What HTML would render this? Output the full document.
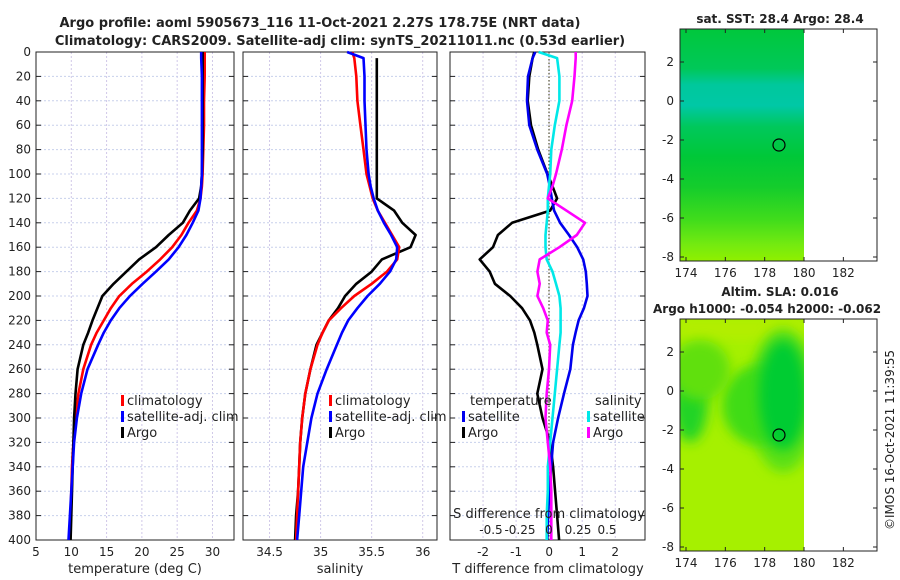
<!DOCTYPE html>
<html><head><meta charset="utf-8"><style>
html,body{margin:0;padding:0;background:#fff}
svg{display:block;font-family:"DejaVu Sans","Liberation Sans",sans-serif}
text{fill:#222}
</style></head><body>
<svg id="c" width="900" height="580" viewBox="0 0 900 580" xmlns="http://www.w3.org/2000/svg">
<defs>
<linearGradient id="sst" x1="0" y1="0" x2="0" y2="1">
<stop offset="0" stop-color="#00c83c"/><stop offset="0.17" stop-color="#00c858"/>
<stop offset="0.24" stop-color="#00c89c"/><stop offset="0.33" stop-color="#00c8a6"/>
<stop offset="0.42" stop-color="#00c85c"/><stop offset="0.55" stop-color="#00c838"/>
<stop offset="0.68" stop-color="#14cc2c"/><stop offset="0.82" stop-color="#40dc1c"/>
<stop offset="0.93" stop-color="#74ea10"/><stop offset="1" stop-color="#90f000"/>
</linearGradient>
<filter id="bl" x="-30%" y="-30%" width="160%" height="160%"><feGaussianBlur stdDeviation="6"/></filter>
<clipPath id="cm2"><rect x="680" y="319" width="124" height="232"/></clipPath>
</defs>
<text x="320" y="27" text-anchor="middle" font-size="13" font-weight="bold">Argo profile: aoml 5905673_116 11-Oct-2021 2.27S 178.75E (NRT data)</text>
<text x="340" y="45" text-anchor="middle" font-size="13" font-weight="bold">Climatology: CARS2009. Satellite-adj clim: synTS_20211011.nc (0.53d earlier)</text>
<g id="plots"></g>
<g>
<text x="780" y="23" text-anchor="middle" font-size="12" font-weight="bold">sat. SST: 28.4 Argo: 28.4</text>
<rect x="680" y="29" width="124" height="232" fill="url(#sst)"/>
<rect x="680" y="29" width="197" height="232" fill="none" stroke="#222" stroke-width="1"/>
<circle cx="779" cy="145" r="6" fill="none" stroke="#000" stroke-width="1.2"/>
<g id="map1ticks"></g>
</g>
<g>
<text x="780" y="296" text-anchor="middle" font-size="12" font-weight="bold">Altim. SLA: 0.016</text>
<text x="653" y="313" font-size="12" font-weight="bold">Argo h1000: -0.054 h2000: -0.062</text>
<g clip-path="url(#cm2)">
<rect x="680" y="319" width="124" height="232" fill="#a6f000"/>
<rect x="680" y="319" width="124" height="20" fill="#b4ee00" filter="url(#bl)"/>
<ellipse cx="783" cy="400" rx="34" ry="72" fill="#5ae014" filter="url(#bl)"/>
<ellipse cx="760" cy="405" rx="38" ry="40" fill="#40dc18" filter="url(#bl)"/>
<ellipse cx="783" cy="395" rx="24" ry="55" fill="#00cc30" filter="url(#bl)"/>
<ellipse cx="690" cy="400" rx="18" ry="42" fill="#20d428" filter="url(#bl)"/>
<ellipse cx="700" cy="370" rx="30" ry="30" fill="#60e010" filter="url(#bl)"/>
</g>
<rect x="680" y="319" width="197" height="232" fill="none" stroke="#222" stroke-width="1"/>
<circle cx="779" cy="435" r="6" fill="none" stroke="#000" stroke-width="1.2"/>
<g id="map2ticks"></g>
</g>
<text transform="translate(894,440) rotate(-90)" text-anchor="middle" font-size="12">©IMOS 16-Oct-2021 11:39:55</text>
</svg>
<script>
const depths = [0,5,20,40,60,80,100,110,120,130,140,150,160,170,180,190,200,210,220,230,240,260,280,300,320,340,360,380,400];
const tempClim = [28.9,28.9,28.9,28.8,28.8,28.7,28.6,28.5,28.3,27.8,26.6,25.6,24.3,22.6,20.7,18.6,16.8,15.6,14.6,13.6,12.8,11.7,11.0,10.6,10.3,10.1,10.0,9.9,9.8];
const tempSat = [28.4,28.4,28.5,28.5,28.5,28.5,28.5,28.4,28.3,28.0,27.2,26.3,25.2,23.8,22.0,20.1,18.3,16.8,15.6,14.6,13.8,12.3,11.4,10.8,10.4,10.2,10.0,9.8,9.6];
const tempArgo = [28.6,28.6,28.6,28.6,28.6,28.6,28.5,28.4,28.1,26.8,25.8,23.8,22.0,19.6,17.8,16.0,14.4,13.7,13.0,12.4,11.7,10.9,10.6,10.4,10.3,10.2,10.1,10.0,9.9];
const salClim = [35.31,35.33,35.35,35.36,35.39,35.42,35.45,35.48,35.51,35.56,35.63,35.70,35.77,35.75,35.65,35.50,35.33,35.20,35.08,35.02,34.97,34.90,34.85,34.82,34.80,34.79,34.78,34.77,34.76];
const salSat = [35.26,35.42,35.43,35.43,35.44,35.45,35.47,35.49,35.52,35.56,35.62,35.69,35.75,35.74,35.68,35.58,35.46,35.36,35.27,35.21,35.16,35.06,34.97,34.91,34.87,34.83,34.81,34.79,34.77];
const salArgo = [35.55,35.55,35.55,35.55,35.55,35.55,35.55,35.55,35.55,35.72,35.80,35.93,35.88,35.60,35.50,35.35,35.24,35.17,35.08,35.02,34.96,34.90,34.85,34.82,34.80,34.79,34.78,34.76,34.75];
const tDiffSat = [-0.42,-0.5,-0.64,-0.67,-0.6,-0.36,-0.06,0.02,0.08,0.15,0.33,0.6,0.85,1.03,1.11,1.14,1.16,1.05,0.89,0.8,0.72,0.64,0.45,0.27,0.12,0.06,0.0,-0.03,-0.06];
const tDiffArgo = [-0.45,-0.5,-0.6,-0.65,-0.55,-0.33,-0.05,0.1,0.24,0.03,-1.12,-1.55,-1.7,-2.1,-1.8,-1.64,-1.18,-0.82,-0.58,-0.45,-0.36,-0.2,-0.36,-0.2,0.03,0.12,0.18,0.24,0.3];
const sDiffSat = [-0.09,0.07,0.09,0.09,0.05,0.02,0.01,0.0,-0.01,-0.01,-0.02,-0.03,-0.03,-0.02,0.03,0.06,0.09,0.1,0.1,0.1,0.09,0.07,0.05,0.03,0.01,-0.01,-0.01,-0.02,-0.02];
const sDiffArgo = [0.23,0.23,0.22,0.2,0.15,0.11,0.06,0.03,-0.01,0.15,0.31,0.24,0.09,-0.08,-0.1,-0.08,-0.1,-0.05,-0.01,-0.02,0.01,0.0,-0.02,-0.03,-0.01,0.01,0.02,0.02,0.02];
const depthTicks = [0,20,40,60,80,100,120,140,160,180,200,220,240,260,280,300,320,340,360,380,400];
const tempTicks = [5,10,15,20,25,30];
const salTicks = [34.5,35,35.5,36];
const tDiffTicks = [-2,-1,0,1,2];
const sDiffTicks = [-0.5,-0.25,0,0.25,0.5];
const sDiffLabels = ['-0.5','-0.25','0','0.25','0.5'];
const lonTicks = [174,176,178,180,182];
const latTicks = [2,0,-2,-4,-6,-8];

const NS='http://www.w3.org/2000/svg';
const root=document.getElementById('plots');
function mk(tag,at,parent){const e=document.createElementNS(NS,tag);for(const k in at)e.setAttribute(k,at[k]);(parent||root).appendChild(e);return e;}
const Y0=52,Y1=540;
const yD=d=>Y0+(d/400)*(Y1-Y0);
const panels=[
 {x0:36,x1:234,min:5,max:33.05,name:'temperature-panel'},
 {x0:243,x1:437,min:34.24,max:36.14,name:'salinity-panel'},
 {x0:450,x1:645,min:-3.0,max:2.9,name:'difference-panel'}
];
function xs(p,v){return p.x0+(v-p.min)/(p.max-p.min)*(p.x1-p.x0);}
const sScale=v=>549+v*116;

panels.forEach((p,i)=>{
 const g=mk('g',{});
 
 
 const ticks=i===0?tempTicks:(i===1?salTicks:tDiffTicks);
 ticks.forEach(t=>{
  const x=xs(p,t);
  const gl=mk('line',{x1:x,x2:x,y1:Y0,y2:Y1,stroke:'#d0c8e8','stroke-dasharray':'2,2','stroke-width':1},g);
  
  
  const tl=mk('text',{x:x,y:556,'text-anchor':'middle','font-size':12},g);
  
  
  tl.textContent=String(t);
 });
 depthTicks.forEach(d=>{
  const y=yD(d);
  const gl=mk('line',{x1:p.x0,x2:p.x1,y1:y,y2:y,stroke:'#c8d0ec','stroke-dasharray':'2,2','stroke-width':1},g);
  
  
  mk('line',{x1:p.x0,x2:p.x0+5,y1:y,y2:y,stroke:'#222'},g);
  mk('line',{x1:p.x1-5,x2:p.x1,y1:y,y2:y,stroke:'#222'},g);
  if(i===0){
   const tl=mk('text',{x:31,y:y+4,'text-anchor':'end','font-size':12},g);
   
   
   tl.textContent=String(d);
  }
 });
 const fr=mk('rect',{x:p.x0,y:Y0,width:p.x1-p.x0,height:Y1-Y0,fill:'none',stroke:'#222','stroke-width':1},g);
 
 
});
function line(vals,fx,color,name,startIdx){
 let d='';
 for(let k=startIdx||0;k<depths.length;k++){d+=(d?'L':'M')+fx(vals[k]).toFixed(1)+','+yD(depths[k]).toFixed(1);}
 const e=mk('path',{d:d,fill:'none',stroke:color,'stroke-width':2.6,'stroke-linejoin':'round'});
 
 
}
const P=panels;
line(tempClim,v=>xs(P[0],v),'#ff0000','temperature-climatology-line');
line(tempArgo,v=>xs(P[0],v),'#000000','temperature-argo-line');
line(tempSat,v=>xs(P[0],v),'#0000ff','temperature-satellite-line');
line(salArgo,v=>xs(P[1],v),'#000000','salinity-argo-line',1);
line(salClim,v=>xs(P[1],v),'#ff0000','salinity-climatology-line');
line(salSat,v=>xs(P[1],v),'#0000ff','salinity-satellite-line');
const zl=mk('line',{x1:549,x2:549,y1:Y0,y2:Y1,stroke:'#555533','stroke-dasharray':'1.5,2','stroke-width':1.2});


line(tDiffArgo,v=>xs(P[2],v),'#000000','t-diff-argo-line');
line(tDiffSat,v=>xs(P[2],v),'#0000ee','t-diff-satellite-line');
line(sDiffSat,sScale,'#00e8e8','s-diff-satellite-line');
line(sDiffArgo,sScale,'#ff00ff','s-diff-argo-line');
sDiffTicks.forEach((t,k)=>{
 const tl=mk('text',{x:sScale(t),y:534,'text-anchor':'middle','font-size':12});
 
 
 tl.textContent=sDiffLabels[k];
});
function txt(x,y,s,name,anchor,size){const t=mk('text',{x:x,y:y,'font-size':size||12,'text-anchor':anchor||'start'});t.textContent=s;return t;}
txt(549,518,'S difference from climatology','s-diff-axis-title','middle',13);
txt(135,573,'temperature (deg C)','temperature-axis-title','middle',13);
txt(340,573,'salinity','salinity-axis-title','middle',13);
txt(548,573,'T difference from climatology','t-diff-axis-title','middle',13);
function leg(x,y,color,label,name){
 const r=mk('rect',{x:x,y:y-10,width:3,height:11,fill:color});
 
 
 txt(x+6,y,label,name,'start',13);
}
leg(121,405,'#ff0000','climatology','legend-climatology');
leg(121,421,'#0000ff','satellite-adj. clim','legend-satellite');
leg(121,437,'#000000','Argo','legend-argo');
leg(329,405,'#ff0000','climatology','legend-sal-climatology');
leg(329,421,'#0000ff','satellite-adj. clim','legend-sal-satellite');
leg(329,437,'#000000','Argo','legend-sal-argo');
txt(470,405,'temperature','legend-temperature-header','start',13);
leg(462,421,'#0000ee','satellite','legend-t-satellite');
leg(462,437,'#000000','Argo','legend-t-argo');
txt(595,405,'salinity','legend-salinity-header','start',13);
leg(587,421,'#00e8e8','satellite','legend-s-satellite');
leg(587,437,'#ff00ff','Argo','legend-s-argo');
const lonX=l=>686+(l-174)*19.67;
function mapTicks(gid,latY,top,bot){
 const g=document.getElementById(gid);
 lonTicks.forEach(l=>{
  const x=lonX(l);
  mk('line',{x1:x,x2:x,y1:bot,y2:bot-4,stroke:'#222'},g);
  mk('line',{x1:x,x2:x,y1:top,y2:top+4,stroke:'#222'},g);
  const t=mk('text',{x:x,y:bot+16,'text-anchor':'middle','font-size':12},g);
  
  
  t.textContent=String(l);
 });
 latTicks.forEach(a=>{
  const y=latY(a);
  mk('line',{x1:680,x2:684,y1:y,y2:y,stroke:'#222'},g);
  mk('line',{x1:873,x2:877,y1:y,y2:y,stroke:'#222'},g);
  const t=mk('text',{x:674,y:y+4,'text-anchor':'end','font-size':12},g);
  
  
  t.textContent=String(a);
 });
}
mapTicks('map1ticks',a=>101-a*19.5,29,261);
mapTicks('map2ticks',a=>391-a*19.5,319,551);
</script>
</body></html>
